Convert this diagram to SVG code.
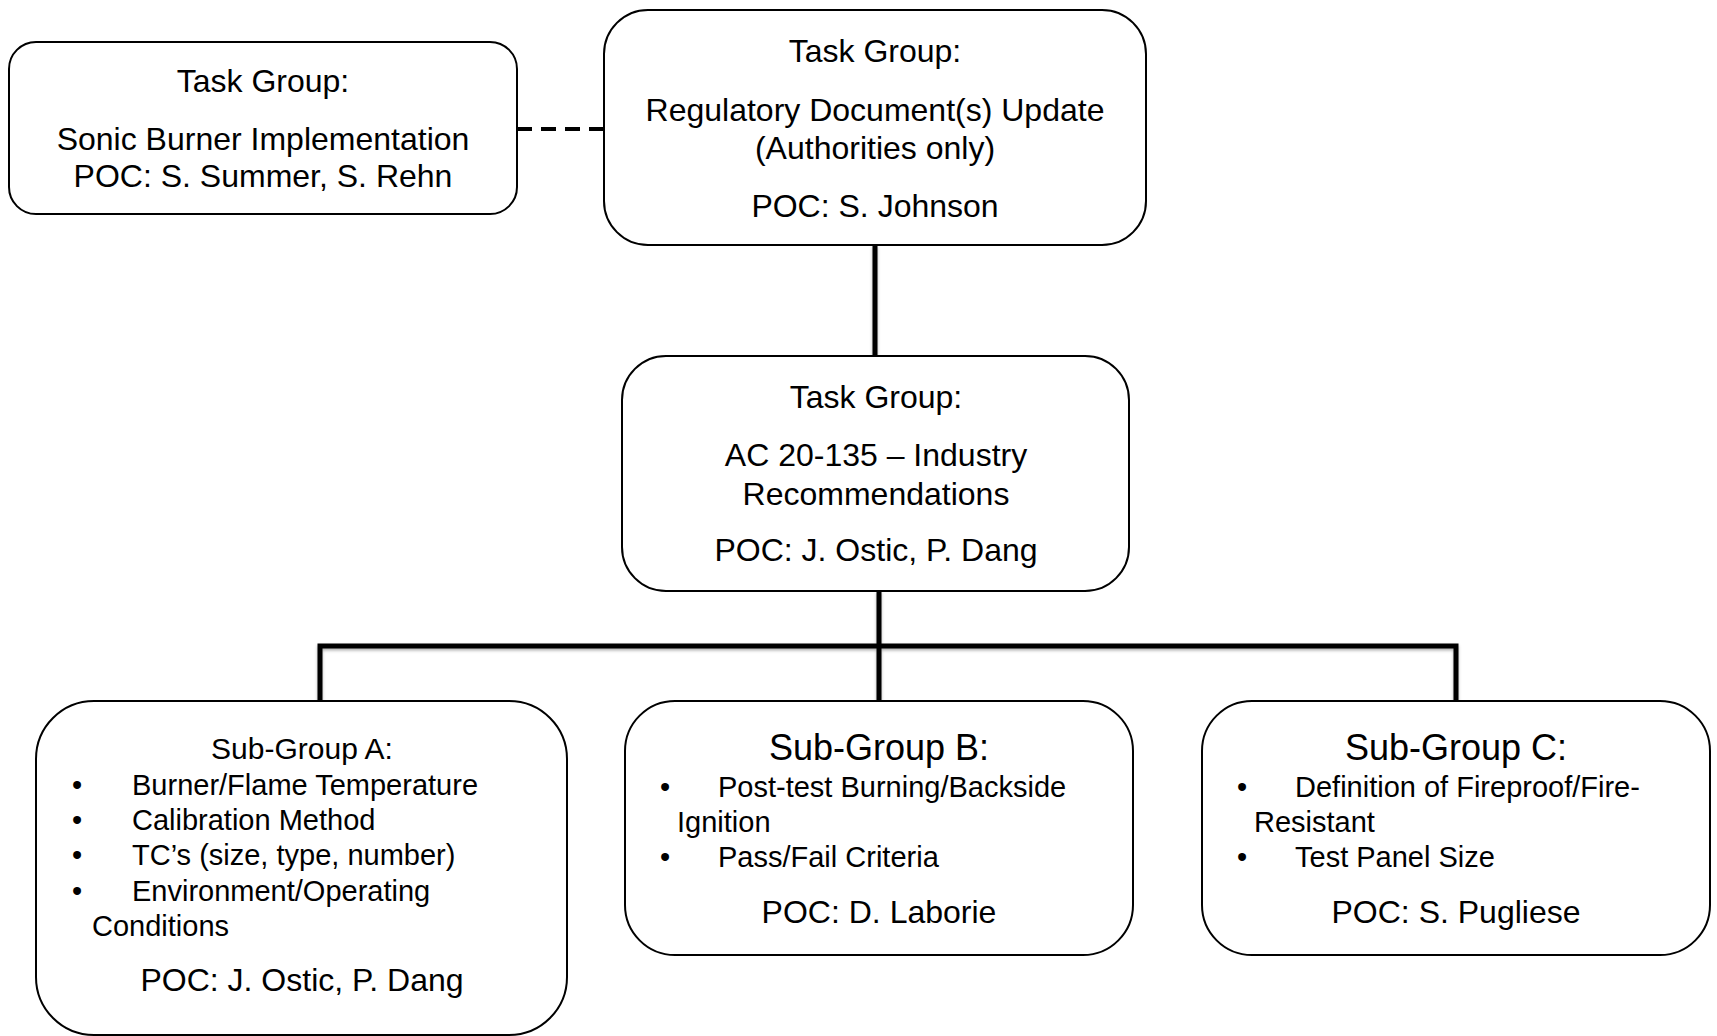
<svg xmlns="http://www.w3.org/2000/svg" width="1717" height="1036" viewBox="0 0 1717 1036">
  <defs>
    <filter id="lineShadow" x="-5%" y="-20%" width="110%" height="140%">
      <feDropShadow dx="0" dy="2" stdDeviation="1.5" flood-color="#000" flood-opacity="0.3"/>
    </filter>
  </defs>
  <style>
    .box { fill: #fff; stroke: #000; stroke-width: 2; }
    .t { font-family: "Liberation Sans", Arial, sans-serif; fill: #000; }
    .tg { font-size: 32px; text-anchor: middle; }
    .hd { font-size: 36px; text-anchor: middle; }
    .hdA { font-size: 30px; text-anchor: middle; }
    .li { font-size: 29px; }
    .poc { font-size: 32px; text-anchor: middle; }
    .conn { fill: none; stroke: #000; stroke-width: 5; }
    .dash { fill: none; stroke: #000; stroke-width: 4; stroke-dasharray: 15 9; }
  </style>

  <rect width="1717" height="1036" fill="#fff"/>

  <!-- connectors -->
  <g id="connectors">
    <line class="dash" x1="517" y1="129" x2="604" y2="129"/>
    <g filter="url(#lineShadow)">
      <line class="conn" x1="875" y1="245" x2="875" y2="356"/>
      <line class="conn" x1="879" y1="591" x2="879" y2="701"/>
      <polyline class="conn" points="320,701 320,646 1456,646 1456,701"/>
    </g>
  </g>

  <!-- Sonic Burner task group -->
  <g id="node-sonic-burner">
    <rect class="box" x="9" y="42" width="508" height="172" rx="27" ry="27"/>
    <text class="t tg" x="263" y="92">Task Group:</text>
    <text class="t tg" x="263" y="150">Sonic Burner Implementation</text>
    <text class="t tg" x="263" y="187">POC: S. Summer, S. Rehn</text>
  </g>

  <!-- Regulatory documents task group -->
  <g id="node-regulatory">
    <rect class="box" x="604" y="10" width="542" height="235" rx="44" ry="44"/>
    <text class="t tg" x="875" y="62">Task Group:</text>
    <text class="t tg" x="875" y="121">Regulatory Document(s) Update</text>
    <text class="t tg" x="875" y="159">(Authorities only)</text>
    <text class="t tg" x="875" y="217">POC: S. Johnson</text>
  </g>

  <!-- AC 20-135 task group -->
  <g id="node-ac20-135">
    <rect class="box" x="622" y="356" width="507" height="235" rx="44" ry="44"/>
    <text class="t tg" x="876" y="408">Task Group:</text>
    <text class="t tg" x="876" y="466">AC 20-135 – Industry</text>
    <text class="t tg" x="876" y="505">Recommendations</text>
    <text class="t poc" x="876" y="561">POC: J. Ostic, P. Dang</text>
  </g>

  <!-- Sub-Group A -->
  <g id="node-subgroup-a">
    <rect class="box" x="36" y="701" width="531" height="334" rx="58" ry="58"/>
    <text class="t hdA" x="302" y="759">Sub-Group A:</text>
    <text class="t li" x="72" y="795">•</text>
    <text class="t li" x="132" y="795">Burner/Flame Temperature</text>
    <text class="t li" x="72" y="830">•</text>
    <text class="t li" x="132" y="830">Calibration Method</text>
    <text class="t li" x="72" y="865">•</text>
    <text class="t li" x="132" y="865">TC’s (size, type, number)</text>
    <text class="t li" x="72" y="901">•</text>
    <text class="t li" x="132" y="901">Environment/Operating</text>
    <text class="t li" x="92" y="936">Conditions</text>
    <text class="t poc" x="302" y="991">POC: J. Ostic, P. Dang</text>
  </g>

  <!-- Sub-Group B -->
  <g id="node-subgroup-b">
    <rect class="box" x="625" y="701" width="508" height="254" rx="50" ry="50"/>
    <text class="t hd" x="879" y="760">Sub-Group B:</text>
    <text class="t li" x="660" y="797">•</text>
    <text class="t li" x="718" y="797">Post-test Burning/Backside</text>
    <text class="t li" x="677" y="832">Ignition</text>
    <text class="t li" x="660" y="867">•</text>
    <text class="t li" x="718" y="867">Pass/Fail Criteria</text>
    <text class="t poc" x="879" y="923">POC: D. Laborie</text>
  </g>

  <!-- Sub-Group C -->
  <g id="node-subgroup-c">
    <rect class="box" x="1202" y="701" width="508" height="254" rx="50" ry="50"/>
    <text class="t hd" x="1456" y="760">Sub-Group C:</text>
    <text class="t li" x="1237" y="797">•</text>
    <text class="t li" x="1295" y="797">Definition of Fireproof/Fire-</text>
    <text class="t li" x="1254" y="832">Resistant</text>
    <text class="t li" x="1237" y="867">•</text>
    <text class="t li" x="1295" y="867">Test Panel Size</text>
    <text class="t poc" x="1456" y="923">POC: S. Pugliese</text>
  </g>
</svg>
